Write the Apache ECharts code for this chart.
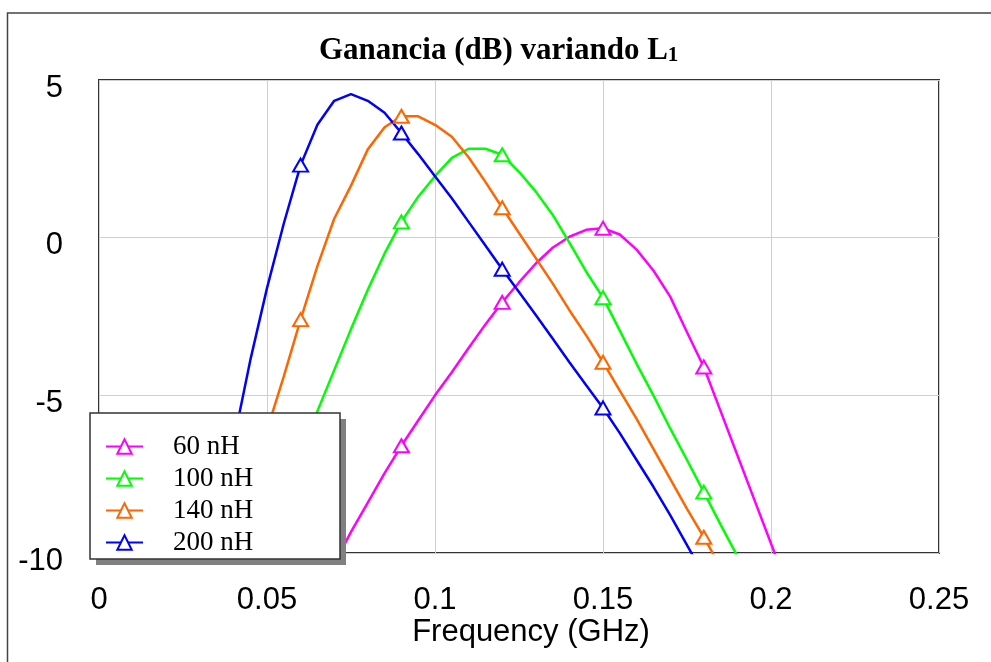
<!DOCTYPE html>
<html>
<head>
<meta charset="utf-8">
<title>Ganancia (dB) variando L1</title>
<script src="https://cdn.jsdelivr.net/npm/echarts@6.0.0/dist/echarts.min.js"></script>
<style>
  html, body { margin: 0; padding: 0; background: #fff; }
  #chart { width: 991px; height: 662px; }
</style>
</head>
<body>
<div id="chart"></div>
<script>
// --- Data ---
// frequency grid, GHz: 0.030 ... 0.205 in 0.005 steps
var freqs = [
  0.030, 0.035, 0.040, 0.045, 0.050, 0.055, 0.060, 0.065, 0.070, 0.075,
  0.080, 0.085, 0.090, 0.095, 0.100, 0.105, 0.110, 0.115, 0.120, 0.125,
  0.130, 0.135, 0.140, 0.145, 0.150, 0.155, 0.160, 0.165, 0.170, 0.175,
  0.180, 0.185, 0.190, 0.195, 0.200, 0.205
];

var seriesNames = ['60 nH', '100 nH', '140 nH', '200 nH'];
var seriesColors = ['#ff00ff', '#00ff00', '#ff6600', '#0000ff'];

var gain60 = [
  null, null, null, null, null, null, null, -11.4, -10.35, -9.33,
  -8.4, -7.47, -6.6, -5.8, -5.0, -4.27, -3.5, -2.75, -2.05, -1.42,
  -0.82, -0.32, 0.03, 0.25, 0.3, 0.1, -0.38, -1.04, -1.87, -3.0,
  -4.1, -5.5, -6.9, -8.3, -9.7, -11.1
];
var gain100 = [
  null, null, null, null, -10.3, -8.6, -7.0, -5.5, -4.2, -2.9,
  -1.65, -0.5, 0.5, 1.3, 1.95, 2.53, 2.82, 2.82, 2.63, 2.09,
  1.46, 0.73, -0.16, -1.08, -1.9, -2.95, -4.0, -5.0, -6.05, -7.05,
  -8.07, -9.1, -10.1, null, null, null
];
var gain140 = [
  null, null, -10.2, -8.0, -6.1, -4.4, -2.6, -0.9, 0.6, 1.65,
  2.8, 3.5, 3.85, 3.85, 3.58, 3.2, 2.55, 1.77, 0.95, 0.15,
  -0.65, -1.45, -2.3, -3.1, -3.95, -4.85, -5.75, -6.7, -7.65, -8.6,
  -9.5, -10.45, null, null, null, null
];
var gain200 = [
  -11.5, -9.0, -6.5, -3.9, -1.6, 0.45, 2.3, 3.58, 4.34, 4.55,
  4.34, 3.96, 3.32, 2.65, 1.95, 1.25, 0.5, -0.25, -1.0, -1.72,
  -2.45, -3.2, -3.95, -4.68, -5.4, -6.2, -7.05, -7.9, -8.8, -9.75,
  -10.7, null, null, null, null, null
];
var gains = [gain60, gain100, gain140, gain200];

// frequencies that carry a triangle marker
var markerFreqs = [0.03, 0.06, 0.09, 0.12, 0.15, 0.18];

var xTicks = [0, 0.05, 0.1, 0.15, 0.2, 0.25];
var yTicks = [-10, -5, 0, 5];

(function () {
  'use strict';

  function isMarker(f) {
    return markerFreqs.some(function (m) { return Math.abs(m - f) < 1e-6; });
  }

  function buildSeries(idx) {
    var data = [];
    freqs.forEach(function (f, i) {
      var v = gains[idx][i];
      if (v === null) return;
      var item = { value: [f, v] };
      if (!isMarker(f)) item.symbol = 'none';
      data.push(item);
    });
    return {
      name: seriesNames[idx],
      type: 'line',
      data: data,
      clip: true,
      symbol: 'triangle',
      symbolSize: [15, 13],
      showAllSymbol: true,
      smooth: false,
      color: seriesColors[idx],
      lineStyle: { color: seriesColors[idx], width: 2.5 },
      itemStyle: { color: '#fff', borderColor: seriesColors[idx], borderWidth: 2 },
      emphasis: { disabled: true },
      animation: false
    };
  }

  var chart = echarts.init(document.getElementById('chart'), null, { renderer: 'canvas' });

  var sans = '"Liberation Sans", Arial, sans-serif';
  var serif = '"Liberation Serif", "Times New Roman", serif';

  var option = {
    backgroundColor: '#fff',
    animation: false,
    title: {
      text: '{t|Ganancia (dB) variando L}{s|1}',
      left: 314,
      top: 27,
      textStyle: {
        rich: {
          t: { fontFamily: serif, fontWeight: 'bold', fontSize: 31, color: '#000', verticalAlign: 'bottom', lineHeight: 34 },
          s: { fontFamily: serif, fontWeight: 'bold', fontSize: 21, color: '#000', verticalAlign: 'bottom', lineHeight: 28 }
        }
      }
    },
    grid: {
      left: 99,
      right: 52,
      top: 80,
      bottom: 109,
      show: true,
      backgroundColor: '#fff',
      borderColor: '#333',
      borderWidth: 2
    },
    legend: {
      orient: 'vertical',
      left: 105,
      top: 433,
      padding: 0,
      itemWidth: 37,
      itemHeight: 18,
      itemGap: 5,
      z: 60,
      data: seriesNames,
      textStyle: {
        fontFamily: serif,
        fontSize: 27,
        lineHeight: 26,
        color: '#000',
        padding: [0, 0, 0, 25]
      }
    },
    xAxis: {
      type: 'value',
      min: xTicks[0],
      max: xTicks[xTicks.length - 1],
      interval: 0.05,
      name: 'Frequency (GHz)',
      nameLocation: 'middle',
      nameGap: 64,
      nameMoveOverlap: false,
      nameTextStyle: { fontFamily: sans, fontSize: 31, color: '#000', padding: [0, 0, 0, 24] },
      axisLine: { show: false },
      axisTick: { show: false },
      axisLabel: { fontFamily: sans, fontSize: 31, color: '#000', margin: 32 },
      splitLine: { show: true, lineStyle: { color: '#cfcfcf', width: 1 } }
    },
    yAxis: {
      type: 'value',
      min: yTicks[0],
      max: yTicks[yTicks.length - 1],
      interval: 5,
      axisLine: { show: false },
      axisTick: { show: false },
      axisLabel: {
        fontFamily: sans, fontSize: 31, color: '#000', margin: 36,
        verticalAlign: 'top', lineHeight: 16
      },
      splitLine: { show: true, lineStyle: { color: '#cfcfcf', width: 1 } }
    },
    graphic: [
      {
        // outer frame of the figure
        type: 'rect',
        z: 0,
        silent: true,
        shape: { x: 7.5, y: 13, width: 2000, height: 2000 },
        style: { fill: 'none', stroke: '#444', lineWidth: 1.5 }
      },
      {
        // legend drop shadow
        type: 'rect',
        z: 49,
        silent: true,
        shape: { x: 96, y: 419, width: 250, height: 146 },
        style: { fill: '#808080' }
      },
      {
        // legend box
        type: 'rect',
        z: 50,
        silent: true,
        shape: { x: 90, y: 413, width: 250, height: 146 },
        style: { fill: '#fff', stroke: '#333', lineWidth: 1.5 }
      }
    ],
    series: seriesNames.map(function (n, i) { return buildSeries(i); })
  };

  chart.setOption(option);
})();
</script>
</body>
</html>
